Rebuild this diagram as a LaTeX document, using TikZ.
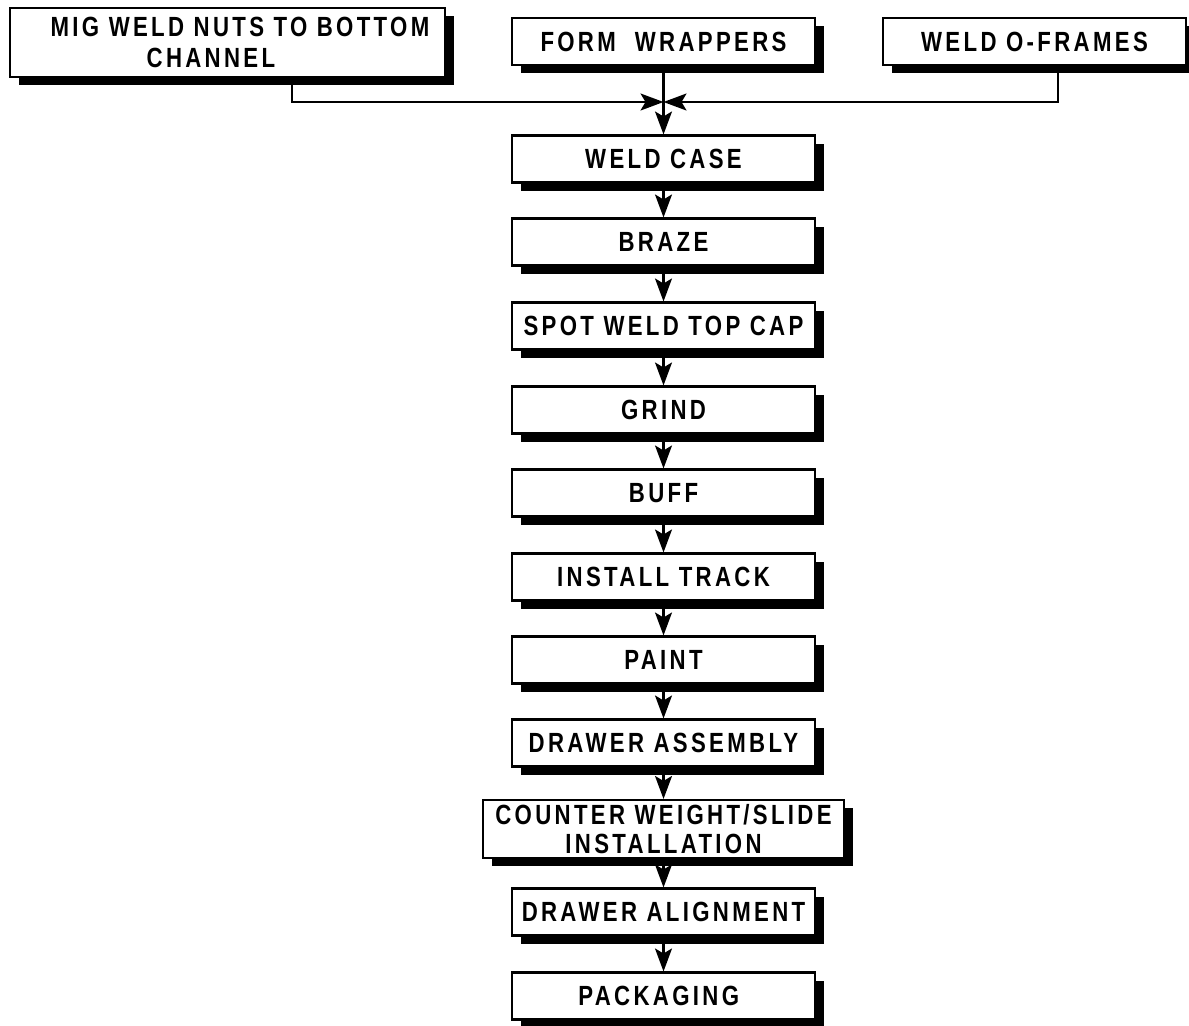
\documentclass[tikz,border=0pt]{standalone}
\usepackage{fontspec}
\newfontfamily\flowfont{Liberation Sans}[FakeStretch=0.8,LetterSpace=12]
\usetikzlibrary{arrows.meta,shadows}
\tikzset{
  stepbox/.style={draw,line width=1.2pt,fill=white,minimum width=6.06cm,minimum height=0.94cm,
    inner sep=0pt,align=center,
    drop shadow={shadow xshift=0.18cm,shadow yshift=-0.16cm,fill=black,opacity=1},
    font=\flowfont\bfseries\fontsize{15.8}{18}\selectfont},
  flow/.style={line width=1.2pt,-{Stealth[length=0.46cm,width=0.34cm,inset=0.1cm]}}
}
\begin{document}
\begin{tikzpicture}[x=0.02cm,y=-0.02cm]
\useasboundingbox (0,0) rectangle (1189,1025);
% top row
\node[stepbox,minimum width=8.7cm,minimum height=1.38cm,align=left] (mig) at (227.5,42.5)
  {\hspace*{0.5cm}MIG WELD NUTS TO BOTTOM\\\hspace*{2.42cm}CHANNEL};
\node[stepbox] (form) at (663.5,41.5) {FORM\ \ WRAPPERS};
\node[stepbox] (oframes) at (1034.5,41.5) {WELD O-FRAMES};
% main line
\foreach \name/\y/\txt in {
  weldcase/159/WELD CASE,
  braze/242/BRAZE,
  spotweld/326/SPOT WELD TOP CAP,
  grind/410/GRIND,
  buff/493/BUFF,
  track/577/INSTALL TRACK,
  paint/660/PAINT,
  drawer/743/DRAWER ASSEMBLY,
  align/912/DRAWER ALIGNMENT,
  packaging/996/PACKAGING
}{
  \node[stepbox] (\name) at (663.5,\y) {\txt};
}
\node[stepbox,minimum width=7.22cm,minimum height=1.16cm,font=\flowfont\bfseries\fontsize{15.8}{17}\selectfont]
  (counter) at (663.5,829) {COUNTER WEIGHT/SLIDE\\INSTALLATION};
% connectors
\coordinate (join) at (663.5,102);
\coordinate (migdrop) at (292,102);
\coordinate (oframesdrop) at (1058,102);
\draw[flow] (migdrop |- mig.south) -- (migdrop) -- (join);
\draw[flow] (oframesdrop |- oframes.south) -- (oframesdrop) -- (join);
\foreach \a/\b in {form/weldcase,weldcase/braze,braze/spotweld,spotweld/grind,grind/buff,
  buff/track,track/paint,paint/drawer,drawer/counter,counter/align,align/packaging}
  \draw[flow] (\a) -- (\b);
\end{tikzpicture}
\end{document}
